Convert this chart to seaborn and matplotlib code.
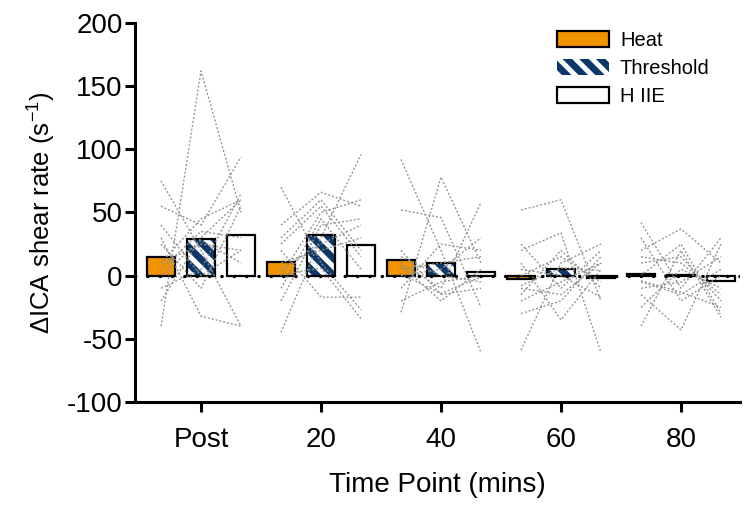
import matplotlib
matplotlib.use("Agg")
import matplotlib.pyplot as plt
from matplotlib.patches import Patch, Rectangle
import numpy as np
import pandas as pd
import seaborn as sns

# Time points and exercise conditions
time_points = ["Post", "20", "40", "60", "80"]
conditions = ["Heat", "Threshold", "H IIE"]

# Individual change in ICA shear rate (s^-1), one row per time point, one value per participant
heat = [
    [-40, 75, 55, 30, 10, 40, -20, 0, 25, 5, -10, 10],
    [-45, 70, 40, 20, 0, -20, 30, 10, -10, 25, 5, 1],
    [92, -29, 52, 10, 0, 20, -10, 15, 5, -20, 8, 1],
    [52, -59, 20, -30, 10, -15, 25, 0, -20, 5, -10, -8],
    [42, -40, 20, -15, 10, -25, 30, 0, -10, 15, -5, -4],
]
threshold = [
    [162, 20, 40, -32, 45, 0, 30, 28, -10, 35, 5, 25],
    [30, 10, 66, -17, 50, 40, 60, 20, 45, 55, 25, 6],
    [20, 78, 46, -10, 5, -15, 25, 0, 10, -5, -20, -14],
    [60, 10, 34, -20, -35, 20, -10, 15, -5, 0, -15, 6],
    [-10, 20, 37, -43, 15, 5, -20, 25, -5, 10, -15, -13],
]
hiie = [
    [50, -40, 94, -40, 60, 20, 60, 10, 55, 30, 65, 20],
    [96, -27, 55, -17, 60, 45, 20, 30, 5, 15, 40, -34],
    [-61, 10, -25, 58, 30, -10, 20, -5, 15, 0, 5, -1],
    [-20, 25, -61, 15, 5, -10, 20, -5, 10, -17, 10, 4],
    [30, -33, 10, 25, -20, -10, 0, -30, 15, -15, 5, -25],
]

colors = {"Heat": "#F29400", "Threshold": "#0B3868", "H IIE": "#FFFFFF"}

# Long-form table
rows = []
for cond, block in zip(conditions, [heat, threshold, hiie]):
    for t, vals in zip(time_points, block):
        for s, v in enumerate(vals):
            rows.append({"time": t, "condition": cond, "subject": s, "value": v})
df = pd.DataFrame(rows)

sns.set_style("ticks")
plt.rcParams["font.family"] = ["Liberation Sans", "DejaVu Sans"]
plt.rcParams["axes.unicode_minus"] = False
plt.rcParams["mathtext.default"] = "regular"
plt.rcParams["hatch.linewidth"] = 3.6
plt.rcParams["text.color"] = "black"
plt.rcParams["axes.labelcolor"] = "black"

fig = plt.figure(figsize=(7.43, 5.05), dpi=100)
ax = fig.add_axes([0.1817, 0.204, 0.814, 0.7505])

sns.barplot(data=df, x="time", y="value", hue="condition",
            order=time_points, hue_order=conditions, palette=colors,
            saturation=1, errorbar=None, width=1.0, gap=0.3,
            edgecolor="black", linewidth=1.6, legend=False, ax=ax, zorder=2)

# Striped Threshold bars with a black outline
for bar in ax.containers[1]:
    bar.set_hatch("\\\\")
    bar.set_edgecolor("white")
    bar.set_linewidth(0)
    ax.add_patch(Rectangle(bar.get_xy(), bar.get_width(), bar.get_height(),
                           fill=False, edgecolor="black", linewidth=1.6, zorder=2.5))

# Individual participant responses across conditions within each time point
centres = [[b.get_x() + b.get_width() / 2 for b in c] for c in ax.containers[:3]]
for i in range(len(time_points)):
    xs = [centres[0][i], centres[1][i], centres[2][i]]
    for s in range(len(heat[i])):
        ax.plot(xs, [heat[i][s], threshold[i][s], hiie[i][s]],
                color="#8f8f8f", lw=0.95, ls=(0, (1.5, 1.5)), zorder=3)

# Zero reference line
ax.axhline(0, color="black", lw=2.4, ls=(0, (0.1, 3.6)),
           dash_capstyle="round", zorder=4)

ax.set_xlim(-0.55, 4.49)
ax.set_ylim(-100, 200)
ax.set_yticks(np.arange(-100, 201, 50))
ax.set_xlabel("Time Point (mins)", fontsize=20, labelpad=14, color="black")
ax.set_ylabel("ΔICA shear rate (s$^{-1}$)", fontsize=18.5, labelpad=6, color="black")
ax.tick_params(axis="both", labelsize=20, length=7, width=2.2, color="black",
               labelcolor="black")
ax.tick_params(axis="x", pad=11)
ax.tick_params(axis="y", pad=2)
for side in ["left", "bottom"]:
    ax.spines[side].set_linewidth(2.2)
    ax.spines[side].set_color("black")
sns.despine(ax=ax)

handles = [
    Patch(facecolor=colors["Heat"], edgecolor="black", linewidth=1.6),
    Patch(facecolor=colors["Threshold"], edgecolor="white", hatch="\\\\", linewidth=0),
    Patch(facecolor="white", edgecolor="black", linewidth=1.6),
]
leg = fig.legend(handles, conditions, loc="upper left", bbox_to_anchor=(0.749, 0.939),
                 frameon=False, fontsize=14.5, handlelength=2.6, handleheight=0.85,
                 handletextpad=0.55, labelspacing=0.45, borderpad=0, borderaxespad=0)
for txt in leg.get_texts():
    txt.set_color("black")

fig.savefig("out.png", dpi=100)
